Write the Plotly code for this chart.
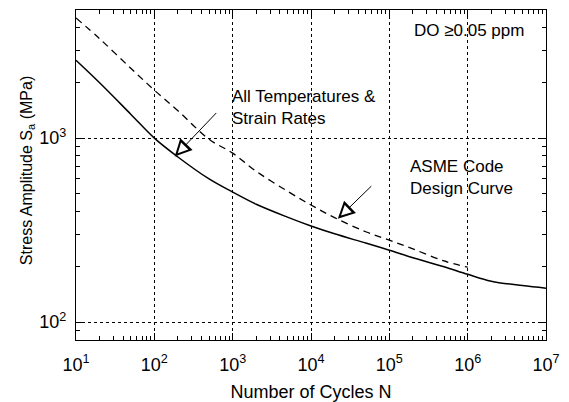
import plotly.graph_objects as go
import numpy as np

# Data
cycles_all = [10, 20, 50, 100, 200, 500, 1e3, 2e3, 5e3, 1e4, 2e4, 5e4, 1e5, 2e5, 5e5, 1e6, 2e6, 5e6, 1e7]
stress_all = [2650, 2000, 1350, 1000, 790, 600, 509, 437, 372, 333, 302, 269, 246, 224, 200, 182, 167, 158, 153]

cycles_asme = [10, 20, 50, 100, 200, 500, 1e3, 2e3, 5e3, 1e4, 2e4, 5e4, 1e5, 2e5, 5e5, 1e6]
stress_asme = [4500, 3470, 2400, 1823, 1410, 985, 829, 660, 515, 433, 370, 310, 279, 250, 215, 199]

x_ticks = [1e1, 1e2, 1e3, 1e4, 1e5, 1e6, 1e7]
x_ticktext = ["10<sup>1</sup>", "10<sup>2</sup>", "10<sup>3</sup>", "10<sup>4</sup>",
              "10<sup>5</sup>", "10<sup>6</sup>", "10<sup>7</sup>"]
y_ticks = [1e2, 1e3]
y_ticktext = ["10<sup>2</sup>", "10<sup>3</sup>"]

x_minor = [m * 10 ** e for e in range(1, 7) for m in range(2, 10)]
y_minor = [m * 10 ** e for e in range(1, 4) for m in range(2, 10)]

FONT = "Liberation Sans, Arial, sans-serif"

fig = go.Figure()
fig.add_trace(go.Scatter(x=cycles_all, y=stress_all, mode="lines",
                         line=dict(color="black", width=1.5, shape="spline"),
                         showlegend=False))
fig.add_trace(go.Scatter(x=cycles_asme, y=stress_asme, mode="lines",
                         line=dict(color="black", width=1.3, dash="7px,5px", shape="spline"),
                         showlegend=False))

axis_common = dict(
    type="log", showline=True, linecolor="black", linewidth=1.3, mirror="allticks",
    ticks="inside", ticklen=7, tickcolor="black", tickwidth=1,
    showgrid=True, gridcolor="black", gridwidth=1, griddash="dot",
    zeroline=False, tickfont=dict(family=FONT, size=18, color="black"),
    automargin=False,
)

fig.update_xaxes(**axis_common, range=[1, 7], tickvals=x_ticks, ticktext=x_ticktext, ticklabelstandoff=8,
                 minor=dict(tickvals=x_minor, ticks="inside", ticklen=4, tickcolor="black", showgrid=False),
                 title=dict(text="Number of Cycles N", font=dict(family=FONT, size=18, color="black"), standoff=12))
fig.update_yaxes(**axis_common, range=[np.log10(80), np.log10(4970)], tickvals=y_ticks, ticktext=y_ticktext,
                 ticklabelstandoff=5,
                 minor=dict(tickvals=y_minor, ticks="inside", ticklen=4, tickcolor="black", showgrid=False))

annot_font = dict(family=FONT, size=17, color="black")

# Y-axis title as rotated annotation (positioned like the reference)
fig.add_annotation(xref="paper", yref="paper", x=-0.104, y=0.512, xanchor="center", yanchor="middle",
                   text="Stress Amplitude S<sub>a</sub> (MPa)", textangle=-90, showarrow=False,
                   font=dict(family=FONT, size=16, color="black"))

# Arrows with hollow heads: black head, then a smaller white head on top
arrow_tips = [(np.log10(182), np.log10(795), 43, -45), (np.log10(2.2e4), np.log10(365), 35, -34)]
for tx, ty, axp, ayp in arrow_tips:
    fig.add_annotation(x=tx, y=ty, ax=axp, ay=ayp, text="", showarrow=True,
                       arrowhead=2, arrowsize=3.4, arrowwidth=1, arrowcolor="black")
    L = (axp ** 2 + ayp ** 2) ** 0.5
    fig.add_annotation(x=tx, y=ty, ax=axp * 13 / L, ay=ayp * 13 / L, text="", showarrow=True,
                       arrowhead=2, arrowsize=2.0, arrowwidth=1, arrowcolor="white", standoff=4.5)

fig.add_annotation(xref="paper", yref="paper", x=0.328, y=0.706, xanchor="left", yanchor="middle",
                   text="All Temperatures &amp;<br>Strain Rates", showarrow=False, align="left", font=annot_font)
fig.add_annotation(xref="paper", yref="paper", x=0.706, y=0.491, xanchor="left", yanchor="middle",
                   text="ASME Code<br>Design Curve", showarrow=False, align="left", font=annot_font)
fig.add_annotation(xref="paper", yref="paper", x=0.958, y=0.939, xanchor="right", yanchor="middle",
                   text="DO ≥0.05 ppm", showarrow=False, font=annot_font)

fig.update_layout(width=569, height=402, margin=dict(l=76, r=23, t=10, b=62),
                  plot_bgcolor="white", paper_bgcolor="white",
                  font=dict(family=FONT, color="black"))

fig.write_html("out.html")
